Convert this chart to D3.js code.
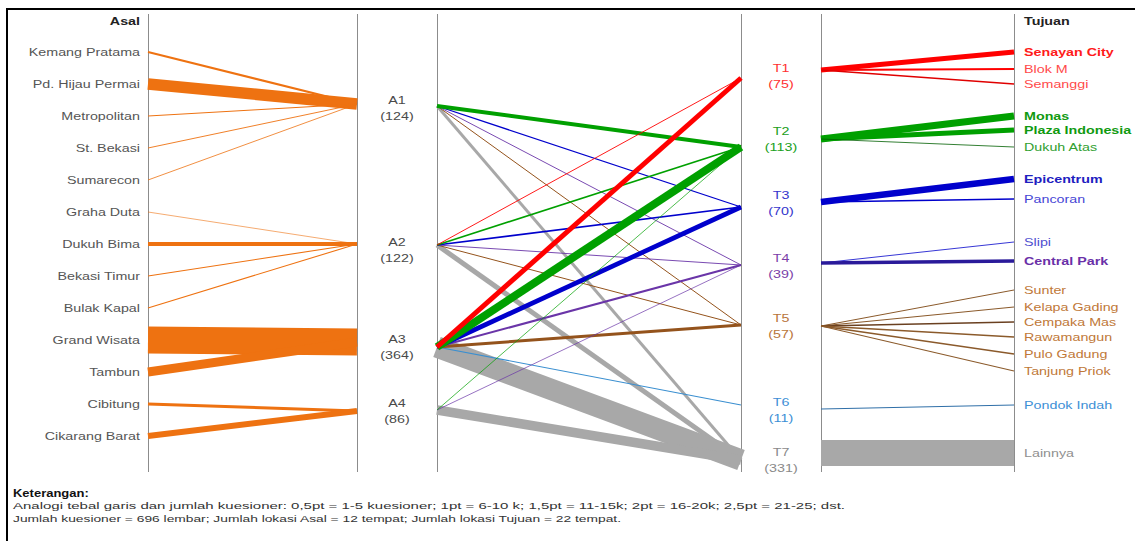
<!DOCTYPE html>
<html><head><meta charset="utf-8">
<script src="https://cdn.jsdelivr.net/npm/d3@7"></script>
<style>
html,body{margin:0;padding:0;background:#fff;}
svg{display:block;font-family:"Liberation Sans",Arial,sans-serif;}
</style></head>
<body>
<svg id="chart" width="1135" height="541"></svg>
<script>
// ---------------- DATA ----------------
const origins = ["Kemang Pratama","Pd. Hijau Permai","Metropolitan","St. Bekasi","Sumarecon","Graha Duta","Dukuh Bima","Bekasi Timur","Bulak Kapal","Grand Wisata","Tambun","Cibitung","Cikarang Barat"];
const originGroup = ["A1","A1","A1","A1","A1","A2","A2","A2","A2","A3","A3","A4","A4"];
const originCount = [15,110,5,4,3,1,35,6,6,265,85,25,55];

const groupsA = ["A1","A2","A3","A4"];
const groupATotals = [124,122,364,86];

const groupsT = ["T1","T2","T3","T4","T5","T6","T7"];
const groupTTotals = [75,113,70,39,57,11,331];

const flowFrom  = ["A1","A1","A1","A1","A1", "A2","A2","A2","A2","A2","A2", "A3","A3","A3","A3","A3","A3","A3", "A4","A4","A4"];
const flowTo    = ["T2","T3","T4","T5","T7", "T1","T2","T3","T4","T5","T7", "T1","T2","T3","T4","T5","T6","T7", "T2","T4","T7"];
const flowCount = [35,8,4,5,25, 4,12,12,4,5,45, 45,75,42,15,25,6,210, 2,2,90];

const destinations = ["Senayan City","Blok M","Semanggi","Monas","Plaza Indonesia","Dukuh Atas","Epicentrum","Pancoran","Slipi","Central Park","Sunter","Kelapa Gading","Cempaka Mas","Rawamangun","Pulo Gadung","Tanjung Priok","Pondok Indah","Lainnya"];
const destGroup = ["T1","T1","T1","T2","T2","T2","T3","T3","T4","T4","T5","T5","T5","T5","T5","T5","T6","T7"];
const destCount = [45,15,10,65,45,3,60,12,4,30,5,6,12,8,8,6,5,255];

const headerLeft = "Asal";
const headerRight = "Tujuan";
const legendTitle = "Keterangan:";
const legendLines = [
  "Analogi tebal garis dan jumlah kuesioner: 0,5pt = 1-5 kuesioner; 1pt = 6-10 k; 1,5pt = 11-15k; 2pt = 16-20k; 2,5pt = 21-25; dst.",
  "Jumlah kuesioner = 696 lembar; Jumlah lokasi Asal = 12 tempat; Jumlah lokasi Tujuan = 22 tempat."
];

// ---------------- LAYOUT / STYLE ----------------
const svg = d3.select("#chart");
const axX = [148, 357, 437, 741, 821, 1014];
const axTop = 14, axBottom = 472;
const SX = 1.3; // horizontal stretch of text as in the reference

const yOrigin = d3.scalePoint().domain(origins).range([52, 436]);
const yA_left = d3.scaleOrdinal().domain(groupsA).range([104, 244, 342, 411]);
const yA_mid = d3.scaleOrdinal().domain(groupsA).range([106, 245, 347, 410]);
const yA_label = d3.scaleOrdinal().domain(groupsA).range([108, 250, 347, 411]);
const yT_mid = d3.scaleOrdinal().domain(groupsT).range([78, 147, 207, 265, 325, 405, 460]);
const yT_label = d3.scaleOrdinal().domain(groupsT).range([76, 139, 203, 266, 326, 410, 460]);
const yT_right = d3.scaleOrdinal().domain(groupsT).range([70, 139, 202, 263, 326, 409, 453]);
const yDest = d3.scaleOrdinal().domain(destinations).range([52,69,84,116,130,147,179,199,242,261,290,307,322,337,354,371,405,453]);
const width = d3.scaleLinear().domain([0, 100]).range([0.5, 10.5]);

const lineColorT = d3.scaleOrdinal().domain(groupsT).range(["#ff0000","#00a000","#0000cc","#6a35a8","#94531c","#3a8fd0","#a8a8a8"]);
const labelColorT = d3.scaleOrdinal().domain(groupsT).range(["#ff3030","#20a020","#3535cc","#7a3ea8","#b8743a","#3d8fd6","#8a8a8a"]);
const destLine = d3.scaleOrdinal().domain(destinations).range(["#ff0000","#ff0000","#e00000","#00a000","#00a000","#006000","#0000cc","#0000cc","#2020d0","#2a1a9a","#8b5a2b","#8b5a2b","#6a4020","#8b5a2b","#8b5a2b","#8b5a2b","#2f6fa8","#a8a8a8"]);
const destText = d3.scaleOrdinal().domain(destinations).range(["#ff1a1a","#ff4a4a","#ff4a4a","#109a10","#109a10","#30a030","#2020c0","#4545d5","#5050d0","#6a30a8","#c07838","#c07838","#c07838","#c07838","#c07838","#c07838","#3d8fd6","#909090"]);
const orange = "#ee7211";

// frame
svg.append("line").attr("x1",7).attr("x2",1135).attr("y1",9).attr("y2",9).attr("stroke","#000").attr("stroke-width",2);
svg.append("line").attr("x1",7).attr("x2",7).attr("y1",8).attr("y2",541).attr("stroke","#000").attr("stroke-width",2);

// axes
svg.append("g").selectAll("line").data(axX).join("line")
  .attr("x1",d=>d+0.5).attr("x2",d=>d+0.5).attr("y1",axTop).attr("y2",axBottom)
  .attr("stroke","#8c8c8c").attr("stroke-width",1);

function stretchedText(g, x, y, txt, anchor, opts = {}) {
  return g.append("text")
    .attr("transform", `translate(${x},${y}) scale(${SX},1)`)
    .attr("text-anchor", anchor)
    .attr("dominant-baseline", "central")
    .attr("font-size", opts.size || 11)
    .attr("font-weight", opts.bold ? "bold" : "normal")
    .attr("fill", opts.color || "#404040")
    .text(txt);
}

// section 1: origins -> A
const s1 = svg.append("g");
const s1data = origins.map((o,i)=>({o, g: originGroup[i], c: originCount[i]}));
s1.selectAll("line").data(s1data).join("line")
  .attr("x1", axX[0]).attr("y1", d=>yOrigin(d.o))
  .attr("x2", axX[1]).attr("y2", d=>yA_left(d.g))
  .attr("stroke", orange).attr("stroke-width", d=>width(d.c));

const labs = svg.append("g");
stretchedText(labs, 140, 21, headerLeft, "end", {bold:true, color:"#222"});
s1data.forEach(d => stretchedText(labs, 140, yOrigin(d.o), d.o, "end", {color:"#555"}));

// A labels
groupsA.forEach((g,i) => {
  stretchedText(labs, 397, yA_label(g)-8, g, "middle", {color:"#4a4a4a"});
  stretchedText(labs, 397, yA_label(g)+8, `(${groupATotals[i]})`, "middle", {color:"#4a4a4a"});
});

// section 2: A -> T
const s2data = flowFrom.map((f,i)=>({f, t: flowTo[i], c: flowCount[i]}));
const order = ["T7","T6","T5","T4","T3","T2","T1"];
s2data.sort((a,b)=>order.indexOf(a.t)-order.indexOf(b.t));
svg.append("g").selectAll("line").data(s2data).join("line")
  .attr("x1", axX[2]).attr("y1", d=>yA_mid(d.f))
  .attr("x2", axX[3]).attr("y2", d=>yT_mid(d.t))
  .attr("stroke", d=>lineColorT(d.t)).attr("stroke-width", d=>width(d.c));

// T labels
groupsT.forEach((g,i) => {
  stretchedText(labs, 781, yT_label(g)-8, g, "middle", {color: labelColorT(g)});
  stretchedText(labs, 781, yT_label(g)+8, `(${groupTTotals[i]})`, "middle", {color: labelColorT(g)});
});

// section 3: T -> destinations
const s3data = destinations.map((d,i)=>({d, g: destGroup[i], c: destCount[i]}));
svg.append("g").selectAll("line").data(s3data).join("line")
  .attr("x1", axX[4]).attr("y1", d=>yT_right(d.g))
  .attr("x2", axX[5]).attr("y2", d=>yDest(d.d))
  .attr("stroke", d=>destLine(d.d)).attr("stroke-width", d=>width(d.c));

stretchedText(labs, 1024, 21, headerRight, "start", {bold:true, color:"#222"});
s3data.forEach(d => stretchedText(labs, 1024, yDest(d.d), d.d, "start",
  {bold: d.c >= 25 && d.g !== "T7", color: destText(d.d)}));

// legend
const lg = svg.append("g");
stretchedText(lg, 13, 494, legendTitle, "start", {bold:true, size:10, color:"#111"});
const legendLens = [832, 608];
legendLines.forEach((t,i) => {
  lg.append("text").attr("x", 13).attr("y", 506 + i*13)
    .attr("dominant-baseline","central")
    .attr("font-size", 9).attr("fill", "#333")
    .attr("textLength", legendLens[i]).attr("lengthAdjust","spacingAndGlyphs")
    .text(t);
});
</script>
</body></html>
